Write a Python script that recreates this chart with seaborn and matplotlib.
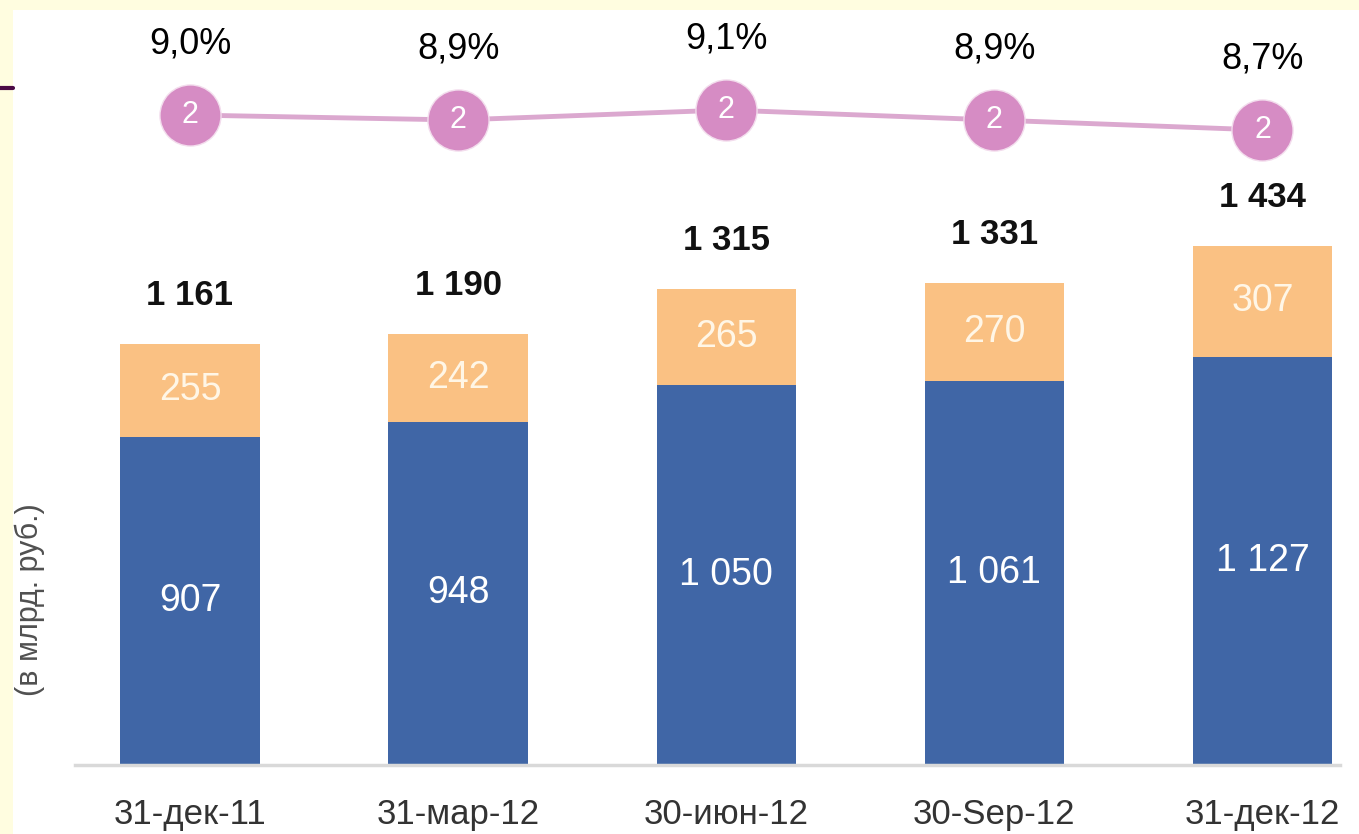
import matplotlib
matplotlib.use("Agg")
from matplotlib import pyplot as plt
from matplotlib.lines import Line2D
from matplotlib.patches import Rectangle
import pandas as pd
import seaborn as sns

# данные с графика (млрд. руб.)
dates = ["31-дек-11", "31-мар-12", "30-июн-12", "30-Sep-12", "31-дек-12"]
blue_vals = [907, 948, 1050, 1061, 1127]
orange_vals = [255, 242, 265, 270, 307]
totals = [1161, 1190, 1315, 1331, 1434]
share = [9.0, 8.9, 9.1, 8.9, 8.7]
rank = [2, 2, 2, 2, 2]

BLUE = "#4066A6"
ORANGE = "#FAC183"
PINK = "#D68CC4"
PINK_LINE = "#DBA8CF"

df = pd.DataFrame({"date": dates, "blue": blue_vals, "orange": orange_vals,
                   "total": totals, "share": share})
df["stack"] = df["blue"] + df["orange"]

sns.set_theme(style="white")
plt.rcParams["font.family"] = ["Liberation Sans", "DejaVu Sans"]

W, H = 1359, 834
fig = plt.figure(figsize=(W / 100, H / 100), dpi=100, facecolor="#FFFDE0")

# белое поле
fig.add_artist(Rectangle((13 / W, 0), 1 - 13 / W, (H - 10) / H,
                         transform=fig.transFigure, facecolor="white",
                         edgecolor="none", zorder=0))
fig.add_artist(Line2D([0, 13 / W], [1 - 88 / H, 1 - 88 / H],
                      transform=fig.transFigure, color="#4B0A45", lw=3))

ax = fig.add_axes([13 / W, (H - 765) / H, 1 - 13 / W, (765 - 10) / H])
ax.set_facecolor("none")

sns.barplot(data=df, x="date", y="stack", color=ORANGE, width=0.52,
            saturation=1, linewidth=0, ax=ax)
sns.barplot(data=df, x="date", y="blue", color=BLUE, width=0.52,
            saturation=1, linewidth=0, ax=ax)

ax.set_xlim(-0.66, 4.36)
ax.set_ylim(0, 2085)
ax.set_xlabel("")
ax.set_ylabel("")
ax.set_yticks([])
for s in ["top", "right", "left"]:
    ax.spines[s].set_visible(False)
ax.spines["bottom"].set_color("#D9D9D9")
ax.spines["bottom"].set_linewidth(2.5)
ax.spines["bottom"].set_bounds(-0.43, 4.29)
ax.tick_params(axis="x", length=0, pad=24, labelsize=25, labelcolor="#333333")

for i, row in df.iterrows():
    ax.text(i, row["blue"] / 2, f"{row['blue']:,}".replace(",", " "),
            ha="center", va="center", color="white", fontsize=27)
    ax.text(i, row["blue"] + row["orange"] / 2, f"{row['orange']}",
            ha="center", va="center", color="#FFF6E6", fontsize=27)
    ax.annotate(f"{row['total']:,}".replace(",", " "), (i, row["stack"]),
                xytext=(0, 35), textcoords="offset points", ha="center",
                va="center", fontsize=25, fontweight="bold", color="#111111")

# линия доли рынка
ax2 = ax.twinx()
ax2.set_ylim(-4.0, 11.1)
ax2.axis("off")
sns.lineplot(x=range(len(share)), y=share, color=PINK_LINE, linewidth=3.5,
             marker="o", markersize=44, markerfacecolor=PINK,
             markeredgecolor="#F3DDED", markeredgewidth=1, ax=ax2)
for i, (p, r) in enumerate(zip(share, rank)):
    ax2.text(i, p, str(r), ha="center", va="center", color="white",
             fontsize=22)
    ax2.annotate(f"{p:.1f}%".replace(".", ","), (i, p), xytext=(0, 51),
                 textcoords="offset points", ha="center", va="center",
                 fontsize=26, color="#000000")

fig.text(30 / W, 1 - 600 / H, "(в млрд. руб.)", rotation=90, ha="center",
         va="center", fontsize=22, color="#505050")

fig.savefig("out.png", dpi=100, facecolor=fig.get_facecolor())
